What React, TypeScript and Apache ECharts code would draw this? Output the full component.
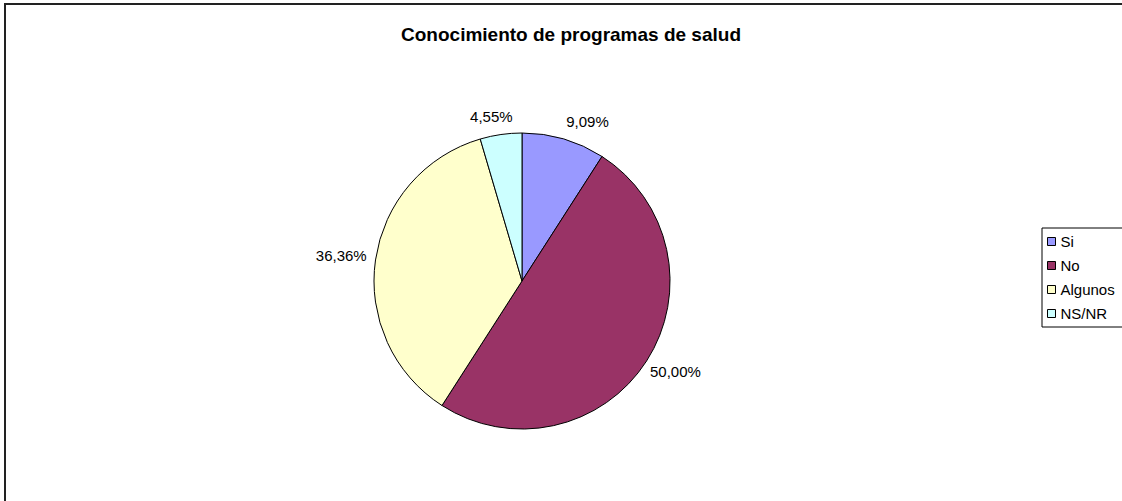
import React, { useEffect, useRef } from "react";
import * as echarts from "echarts";

const categories = ["Si", "No", "Algunos", "NS/NR"];
const values = [9.09, 50.0, 36.36, 4.55];
const colors = ["#9999FF", "#993366", "#FFFFCC", "#CCFFFF"];
const titleText = "Conocimiento de programas de salud";

// label nudges (styling only)
const labelNudge = [
  [-7, -2],
  [-15, 2],
  [12, -2],
  [19, -2],
];

export default function App() {
  const ref = useRef<HTMLDivElement>(null);
  useEffect(() => {
    if (!ref.current) return;
    const chart = echarts.init(ref.current, undefined, { renderer: "svg" });
    const font = "'Liberation Sans', Arial, sans-serif";
    chart.setOption({
      animation: false,
      backgroundColor: "#ffffff",
      title: {
        text: titleText,
        left: 566,
        top: 20,
        textAlign: "center",
        textStyle: { fontFamily: font, fontSize: 19, fontWeight: "bold", color: "#000" },
      },
      graphic: [
        {
          type: "rect",
          shape: { x: 5, y: 4, width: 1300, height: 700 },
          style: { fill: "none", stroke: "#222", lineWidth: 2 },
          silent: true,
        },
      ],
      legend: {
        orient: "vertical",
        left: 1042,
        top: 228,
        padding: [6, 30, 6, 5],
        itemWidth: 8,
        itemHeight: 8,
        itemGap: 9,
        borderColor: "#000",
        borderWidth: 1,
        icon: "rect",
        itemStyle: { borderColor: "#000", borderWidth: 1 },
        textStyle: { fontFamily: font, fontSize: 15, color: "#000", lineHeight: 15 },
        data: categories,
      },
      series: [
        {
          type: "pie",
          center: [522, 281],
          radius: 148,
          startAngle: 90,
          clockwise: true,
          color: colors,
          itemStyle: { borderColor: "#000", borderWidth: 1 },
          label: {
            show: true,
            position: "outside",
            fontFamily: font,
            fontSize: 15,
            color: "#000",
            formatter: (p: any) => p.value.toFixed(2).replace(".", ",") + "%",
          },
          labelLine: { show: false, length: 16, length2: 0 },
          labelLayout: (p: any) => ({
            dx: labelNudge[p.dataIndex][0],
            dy: labelNudge[p.dataIndex][1],
          }),
          emphasis: { disabled: true },
          data: categories.map((c, i) => ({ name: c, value: values[i] })),
        },
      ],
    });
    return () => chart.dispose();
  }, []);
  return (
    <div
      ref={ref}
      style={{ position: "fixed", left: 0, top: 0, width: 1122, height: 501 }}
    />
  );
}
